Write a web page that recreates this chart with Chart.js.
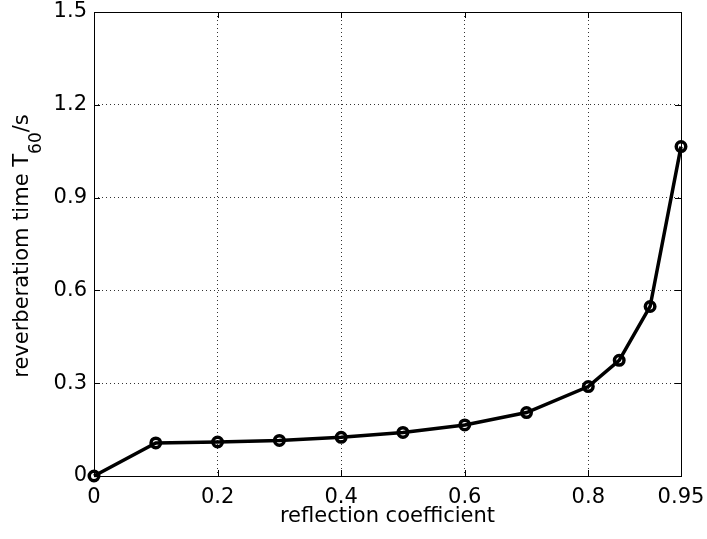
<!DOCTYPE html>
<html>
<head>
<meta charset="utf-8">
<script src="https://cdn.jsdelivr.net/npm/chart.js@4/dist/chart.umd.min.js"></script>
<style>
  html, body { margin: 0; padding: 0; background: #fff; }
  #wrap { width: 707px; height: 539px; }
</style>
</head>
<body>
<div id="wrap"><canvas id="chartT60"></canvas></div>
<script>
// reflection coefficient vs. reverberation time
const reflection = [0, 0.1, 0.2, 0.3, 0.4, 0.5, 0.6, 0.7, 0.8, 0.85, 0.9, 0.95];
const t60 = [0, 0.107, 0.11, 0.115, 0.125, 0.141, 0.165, 0.205, 0.289, 0.374, 0.548, 1.065];

const xTicks = [0, 0.2, 0.4, 0.6, 0.8, 0.95];
const xTickLabels = ['0', '0.2', '0.4', '0.6', '0.8', '0.95'];
const yTicks = [0, 0.3, 0.6, 0.9, 1.2, 1.5];
const yTickLabels = ['0', '0.3', '0.6', '0.9', '1.2', '1.5'];

const FONT = '"DejaVu Sans", Verdana, sans-serif';
const FONT_SIZE = 21;
const SUB_SIZE = 17;
const TICK_LEN = 6;

// hide dotted grid lines sitting on the frame
function innerGrid(edges) {
    return ctx => {
        const v = ctx.tick && ctx.tick.value;
        return edges.includes(v) ? 'rgba(0,0,0,0)' : 'rgba(0,0,0,0.8)';
    };
}

// box, inward tick marks and the y title with subscript
const framePlugin = {
    id: 'frame',
    afterDraw(chart) {
        const { ctx, chartArea: a, scales } = chart;
        ctx.save();
        ctx.strokeStyle = '#000';
        ctx.lineWidth = 1;
        ctx.setLineDash([]);
        ctx.strokeRect(a.left + 0.5, a.top + 0.5, a.right - a.left, a.bottom - a.top);

        ctx.beginPath();
        xTicks.forEach(v => {
            const x = Math.round(scales.x.getPixelForValue(v)) + 0.5;
            ctx.moveTo(x, a.bottom); ctx.lineTo(x, a.bottom - TICK_LEN);
            ctx.moveTo(x, a.top); ctx.lineTo(x, a.top + TICK_LEN);
        });
        yTicks.forEach(v => {
            const y = Math.round(scales.y.getPixelForValue(v)) + 0.5;
            ctx.moveTo(a.left, y); ctx.lineTo(a.left + TICK_LEN, y);
            ctx.moveTo(a.right, y); ctx.lineTo(a.right - TICK_LEN, y);
        });
        ctx.stroke();

        // rotated axis title: "reverberatiom time T" + sub "60" + "/s"
        const main = 'reverberatiom time T';
        const sub = '60';
        const tail = '/s';
        const bigFont = FONT_SIZE + 'px ' + FONT;
        const smallFont = SUB_SIZE + 'px ' + FONT;
        ctx.font = bigFont;
        const w1 = ctx.measureText(main).width;
        const w3 = ctx.measureText(tail).width;
        ctx.font = smallFont;
        const w2 = ctx.measureText(sub).width;
        const total = w1 + w2 + w3;

        ctx.translate(28, 246);
        ctx.rotate(-Math.PI / 2);
        ctx.fillStyle = '#000';
        ctx.textBaseline = 'alphabetic';
        ctx.textAlign = 'left';
        let x0 = -total / 2;
        ctx.font = bigFont;
        ctx.fillText(main, x0, 0);
        x0 += w1;
        ctx.font = smallFont;
        ctx.fillText(sub, x0, 13);
        x0 += w2;
        ctx.font = bigFont;
        ctx.fillText(tail, x0, 0);
        ctx.restore();
    }
};

new Chart(document.getElementById('chartT60'), {
    type: 'line',
    data: {
        datasets: [{
            data: reflection.map((x, i) => ({ x, y: t60[i] })),
            borderColor: '#000',
            borderWidth: 3.5,
            pointRadius: 4.75,
            pointBorderWidth: 3.5,
            pointBorderColor: '#000',
            pointBackgroundColor: 'rgba(0,0,0,0)',
            tension: 0,
            fill: false,
            clip: false
        }]
    },
    options: {
        responsive: true,
        maintainAspectRatio: false,
        animation: false,
        events: [],
        layout: { padding: { top: 12, right: 26, left: 0, bottom: 0 } },
        plugins: {
            legend: { display: false },
            tooltip: { enabled: false }
        },
        scales: {
            x: {
                type: 'linear',
                min: 0,
                max: 0.95,
                afterBuildTicks: s => { s.ticks = xTicks.map(v => ({ value: v })); },
                afterFit: s => { s.height = 63; s.paddingLeft = 0; s.paddingRight = 0; },
                ticks: {
                    autoSkip: false,
                    maxRotation: 0,
                    padding: 9,
                    color: '#000',
                    font: { family: FONT, size: FONT_SIZE },
                    callback: (v, i) => xTickLabels[i]
                },
                grid: { color: innerGrid([0, 0.95]), lineWidth: 1, drawTicks: false },
                border: { display: false, dash: [1, 3] },
                title: {
                    display: true,
                    text: 'reflection coefficient',
                    color: '#000',
                    font: { family: FONT, size: FONT_SIZE },
                    padding: { top: 0, bottom: 10 }
                }
            },
            y: {
                min: 0,
                max: 1.5,
                afterBuildTicks: s => { s.ticks = yTicks.map(v => ({ value: v })); },
                afterFit: s => { s.width = 94; s.paddingTop = 0; s.paddingBottom = 0; },
                ticks: {
                    padding: 7,
                    color: '#000',
                    font: { family: FONT, size: FONT_SIZE },
                    callback: (v, i) => yTickLabels[i]
                },
                grid: { color: innerGrid([0, 1.5]), lineWidth: 1, drawTicks: false },
                border: { display: false, dash: [1, 3] }
            }
        }
    },
    plugins: [framePlugin]
});
</script>
</body>
</html>
